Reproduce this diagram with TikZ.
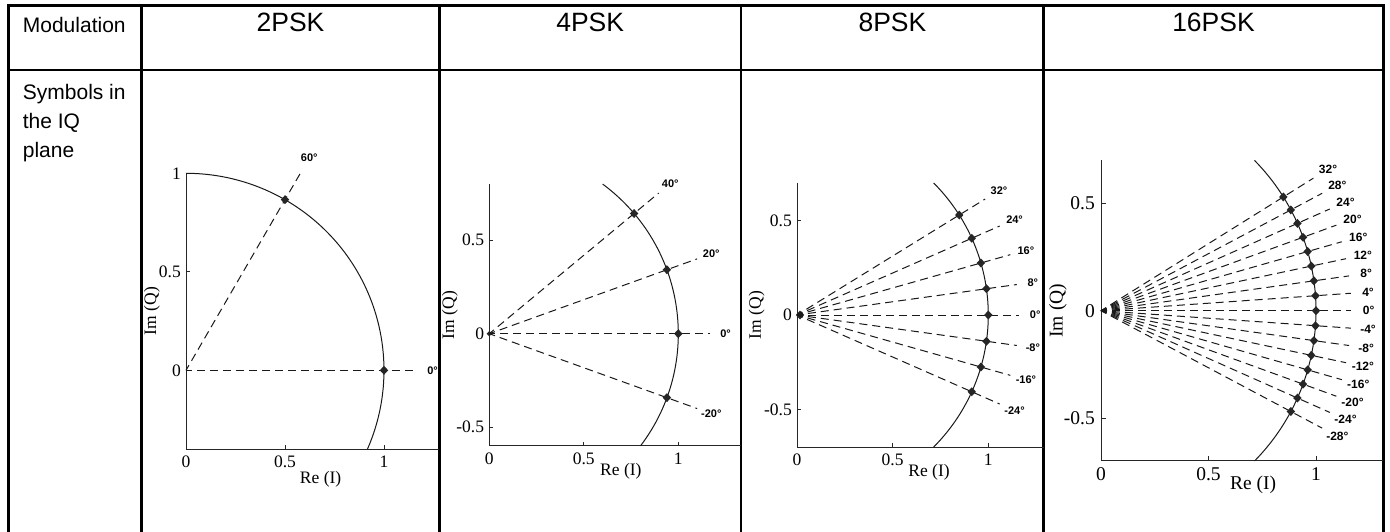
\documentclass[tikz,border=0pt]{standalone}
\usepackage{fontspec}
\setmainfont{Liberation Serif}
\newfontfamily\arialf{Liberation Sans}
\begin{document}
\begin{tikzpicture}[
  gridline/.style={line width=2.6pt, line cap=rect, draw=black},
  celltext/.style={font=\arialf\fontsize{21}{24}\selectfont, inner sep=0pt, anchor=base west},
  headtext/.style={font=\arialf\fontsize{26.5}{30}\selectfont, inner sep=0pt, anchor=base},
  axisline/.style={line width=1pt, draw=black!85},
  arcline/.style={line width=1pt, draw=black!90},
  ray/.style={line width=1pt, draw=black!90, dash pattern=on 8pt off 5pt, dash phase=2pt},
  ticklab/.style={font=\fontsize{17.5}{17.5}\selectfont, inner sep=0pt},
  bigticklab/.style={font=\fontsize{19.5}{19.5}\selectfont, inner sep=0pt},
  anglab/.style={font=\arialf\bfseries\fontsize{11}{11}\selectfont, inner sep=0pt},
  biganglab/.style={font=\arialf\bfseries\fontsize{12}{12}\selectfont, inner sep=0pt},
  dia/.pic={\fill[black!85] (-4.2pt,0pt)--(0pt,4.5pt)--(4.2pt,0pt)--(0pt,-4.5pt)--cycle;},
  smalldia/.pic={\fill[black!85] (-2.6pt,0pt)--(0pt,2.8pt)--(2.6pt,0pt)--(0pt,-2.8pt)--cycle;}
]
\useasboundingbox (0pt,0pt) rectangle (1390pt,-531pt);

% ---------- table ----------
\coordinate (tl) at (8.7pt,-5.7pt);
\coordinate (tr) at (1383.3pt,-5.7pt);
\coordinate (ml) at (8.7pt,-70pt);
\coordinate (mr) at (1383.3pt,-70pt);
\draw[gridline] (tl) -- (tr);
\draw[gridline] (ml) -- (mr);
\foreach \x [count=\i] in {8.7,141.7,439.3,741,1043.7,1383.3}{
  \coordinate (vt\i) at (\x pt,-5.7pt);
  \coordinate (vb\i) at (\x pt,-531pt);
  \draw[gridline] (vt\i) -- (vb\i);
}
\node[celltext] (modl) at (22.7pt,-32.3pt) {Modulation};
\node[celltext] (sym1) at (22.7pt,-99.5pt) {Symbols in};
\node[celltext] (sym2) at (22.7pt,-128.5pt) {the IQ};
\node[celltext] (sym3) at (22.7pt,-157pt) {plane};
\node[headtext] (h2) at (290.5pt,-31.7pt) {2PSK};
\node[headtext] (h4) at (590.2pt,-31.7pt) {4PSK};
\node[headtext] (h8) at (892.4pt,-31.7pt) {8PSK};
\node[headtext] (h16) at (1213.5pt,-31.7pt) {16PSK};

% ---------- 2PSK ----------
\begin{scope}[shift={(186pt,-370.3pt)}, x=198pt, y=197pt]
  \coordinate (a2top) at (0,1);
  \coordinate (a2o) at (0,-0.4);
  \coordinate (a2r) at (1.28,-0.4);
  \draw[axisline] (a2top) -- (a2o) -- (a2r);
  \foreach \t in {0,0.5,1}{
    \draw[axisline] (0,\t) -- ([xshift=4pt]0,\t);
    \node[ticklab, anchor=east] (y2-\t) at ([xshift=-5pt]0,\t) {\t};
    \draw[axisline] (\t,-0.4) -- ([yshift=4pt]\t,-0.4);
    \node[ticklab] (x2-\t) at ([yshift=-12.5pt]\t,-0.4) {\t};
  }
  \node[ticklab] (re2) at (0.68,-0.555) {Re (I)};
  \node[ticklab, rotate=90] (im2) at (-0.172,0.3) {Im (Q)};
  \draw[arcline] (90:1) arc[start angle=90, end angle=-23.58, radius=1];
  \coordinate (c2) at (0,0);
  \foreach \a in {60,0}{
    \coordinate (e2-\a) at (\a:1.17);
    \draw[ray] (c2) -- (e2-\a);
    \pic at (\a:1) {dia};
    \node[anglab] (l2-\a) at (\a:1.245) {\a°};
  }
\end{scope}

% ---------- 4PSK ----------
\begin{scope}[shift={(489.3pt,-333.7pt)}, x=189pt, y=187pt]
  \coordinate (a4top) at (0,0.8);
  \coordinate (a4o) at (0,-0.6);
  \coordinate (a4r) at (1.33,-0.6);
  \draw[axisline] (a4top) -- (a4o) -- (a4r);
  \foreach \t in {-0.5,0,0.5}{
    \draw[axisline] (0,\t) -- ([xshift=4pt]0,\t);
    \node[ticklab, anchor=east] (y4-\t) at ([xshift=-5pt]0,\t) {\t};
  }
  \foreach \t in {0,0.5,1}{
    \draw[axisline] (\t,-0.6) -- ([yshift=4pt]\t,-0.6);
    \node[ticklab] (x4-\t) at ([yshift=-12.5pt]\t,-0.6) {\t};
  }
  \node[ticklab] (re4) at (0.696,-0.735) {Re (I)};
  \node[ticklab, rotate=90] (im4) at (-0.208,0.1) {Im (Q)};
  \draw[arcline] (53.13:1) arc[start angle=53.13, end angle=-36.87, radius=1];
  \coordinate (c4) at (0,0);
  \pic at (c4) {smalldia};
  \foreach \a in {40,20,0,-20}{
    \coordinate (e4-\a) at (\a:1.17);
    \draw[ray] (c4) -- (e4-\a);
    \pic at (\a:1) {dia};
    \node[anglab] (l4-\a) at (\a:1.25) {\a°};
  }
\end{scope}

% ---------- 8PSK ----------
\begin{scope}[shift={(797pt,-315pt)}, x=191.3pt, y=188.7pt]
  \coordinate (a8top) at (0,0.7);
  \coordinate (a8o) at (0,-0.7);
  \coordinate (a8r) at (1.29,-0.7);
  \draw[axisline] (a8top) -- (a8o) -- (a8r);
  \foreach \t in {-0.5,0,0.5}{
    \draw[axisline] (0,\t) -- ([xshift=4pt]0,\t);
    \node[ticklab, anchor=east] (y8-\t) at ([xshift=-5pt]0,\t) {\t};
  }
  \foreach \t in {0,0.5,1}{
    \draw[axisline] (\t,-0.7) -- ([yshift=4pt]\t,-0.7);
    \node[ticklab] (x8-\t) at ([yshift=-12.5pt]\t,-0.7) {\t};
  }
  \node[ticklab] (re8) at (0.69,-0.835) {Re (I)};
  \node[ticklab, rotate=90] (im8) at (-0.211,0) {Im (Q)};
  \draw[arcline] (44.43:1) arc[start angle=44.43, end angle=-44.43, radius=1];
  \coordinate (c8) at (0,0);
  \pic at ([xshift=3pt]c8) {dia};
  \foreach \a in {32,24,...,-24}{
    \coordinate (e8-\a) at (\a:1.16);
    \draw[ray] (c8) -- (e8-\a);
    \pic at (\a:1) {dia};
    \node[anglab] (l8-\a) at (\a:1.245) {\a°};
  }
\end{scope}

% ---------- 16PSK ----------
\begin{scope}[shift={(1101pt,-310.7pt)}, x=215pt, y=214.7pt]
  \coordinate (a16top) at (0,0.7);
  \coordinate (a16o) at (0,-0.7);
  \coordinate (a16r) at (1.313,-0.7);
  \draw[axisline] (a16top) -- (a16o) -- (a16r);
  \foreach \t in {-0.5,0,0.5}{
    \draw[axisline] (0,\t) -- ([xshift=4.5pt]0,\t);
    \node[bigticklab, anchor=east] (y16-\t) at ([xshift=-6pt]0,\t) {\t};
  }
  \foreach \t in {0,0.5,1}{
    \draw[axisline] (\t,-0.7) -- ([yshift=4.5pt]\t,-0.7);
    \node[bigticklab] (x16-\t) at ([yshift=-13pt]\t,-0.7) {\t};
  }
  \node[bigticklab] (re16) at (0.707,-0.81) {Re (I)};
  \node[bigticklab, rotate=90] (im16) at (-0.2,0) {Im (Q)};
  \draw[arcline] (44.43:1) arc[start angle=44.43, end angle=-44.43, radius=1];
  \coordinate (c16) at (0,0);
  \fill[black!85] ([xshift=3pt]c16) circle[radius=1.8pt];
  \foreach \a in {32,28,...,-28}{
    \coordinate (e16-\a) at (\a:1.165);
    \draw[ray] (c16) -- (e16-\a);
    \pic at (\a:1) {dia};
    \node[biganglab] (l16-\a) at (\a:1.245) {\a°};
  }
\end{scope}
\end{tikzpicture}
\end{document}
